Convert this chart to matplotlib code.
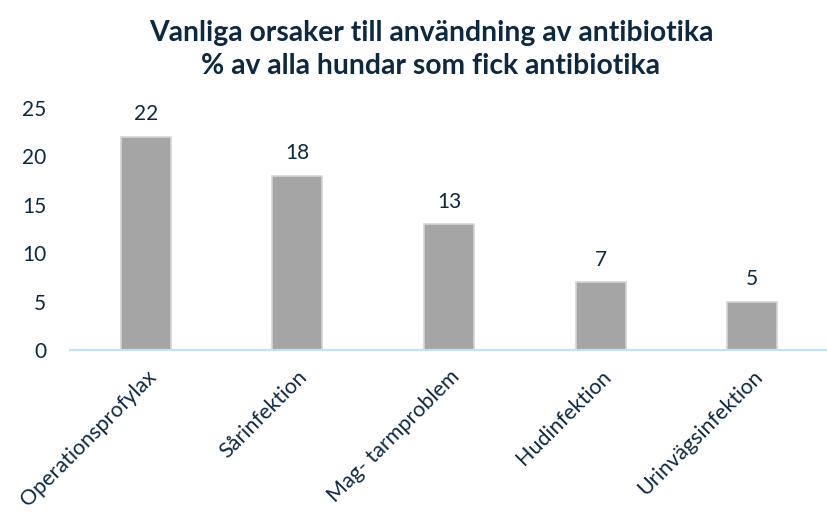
import matplotlib
matplotlib.use("Agg")
import matplotlib.pyplot as plt

categories = ["Operationsprofylax", "Sårinfektion", "Mag- tarmproblem", "Hudinfektion", "Urinvägsinfektion"]
values = [22, 18, 13, 7, 5]
yticks = [0, 5, 10, 15, 20, 25]

TEXT = "#0D2841"
plt.rcParams["font.family"] = ["Lato", "DejaVu Sans"]

fig = plt.figure(figsize=(8.28, 5.14), dpi=100)
ax = fig.add_axes([70 / 828, 1 - 350 / 514, 758 / 828, 242 / 514])

x = range(len(categories))
ax.bar(x, values, width=0.33, color="#A5A5A5", edgecolor="#D4D4D4", linewidth=1.2, zorder=2)
for i, v in enumerate(values):
    ax.text(i, v + 1.3, str(v), ha="center", va="bottom", fontsize=15, color=TEXT)

ax.set_xlim(-0.5, len(categories) - 0.5)
ax.set_ylim(0, 25)
ax.set_yticks(yticks)
ax.set_yticklabels([str(t) for t in yticks], fontsize=15, color=TEXT)
ax.set_xticks(list(x))
ax.set_xticklabels(categories, rotation=45, ha="right", rotation_mode="anchor",
                   fontsize=15.5, color=TEXT)
ax.tick_params(axis="both", length=0)
ax.tick_params(axis="y", pad=17)
ax.tick_params(axis="x", pad=12)
for s in ["top", "right", "left"]:
    ax.spines[s].set_visible(False)
ax.spines["bottom"].set_color("#BDE3F5")
ax.spines["bottom"].set_linewidth(1.5)

# title is centred a bit right of the figure centre in the original
tx = 431 / 828
fig.text(tx, 1 - 33 / 514, "Vanliga orsaker till användning av antibiotika", ha="center", va="center",
         fontsize=20.3, fontweight="bold", color=TEXT)
fig.text(tx, 1 - 66 / 514, "% av alla hundar som fick antibiotika", ha="center", va="center",
         fontsize=20.3, fontweight="bold", color=TEXT)

fig.savefig("out.png", dpi=100)
